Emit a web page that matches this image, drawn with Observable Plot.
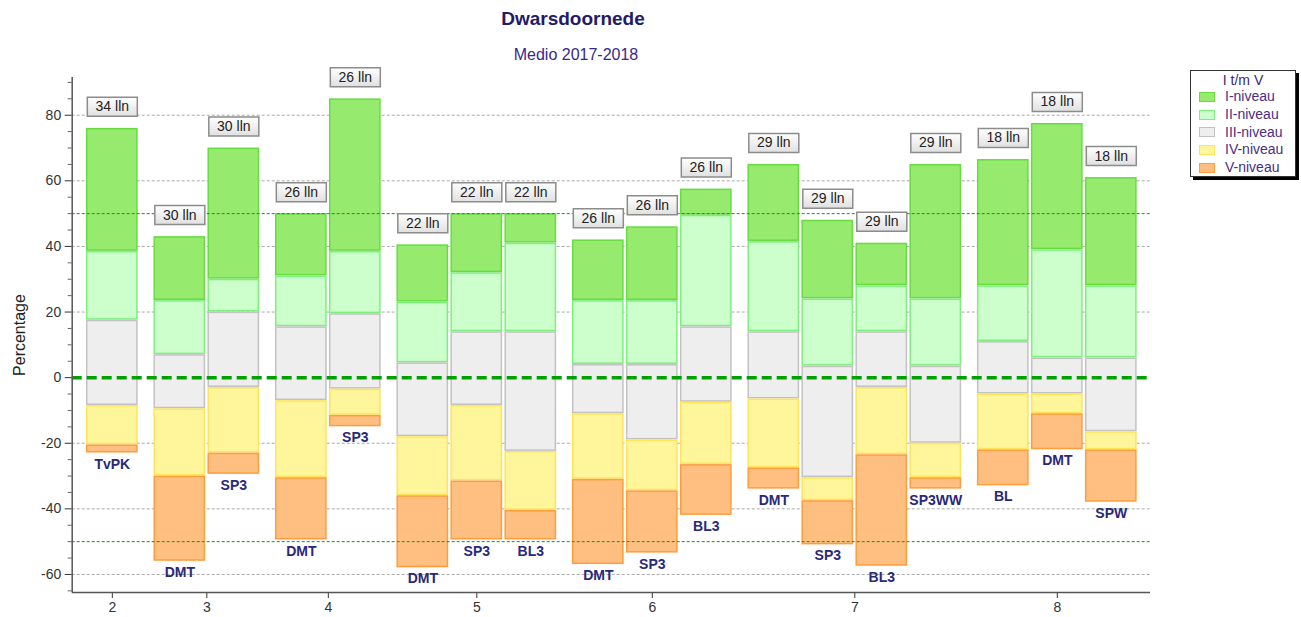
<!DOCTYPE html>
<html>
<head>
<meta charset="utf-8">
<script src="https://cdn.jsdelivr.net/npm/d3@7"></script>
<script src="https://cdn.jsdelivr.net/npm/@observablehq/plot@0.6"></script>
<style>
  html, body { margin: 0; padding: 0; background: #fff; }
  body { font-family: "Liberation Sans", Arial, sans-serif; }
  #wrap { position: relative; width: 1301px; height: 617px; overflow: hidden; }
  #head { position: relative; height: 68px; width: 1146px; }
  #title { position: absolute; left: 0; width: 1146px; top: 8px; text-align: center; font-weight: bold; font-size: 19px; color: #241a66; }
  #subtitle { position: absolute; left: 0; width: 1152px; top: 46px; text-align: center; font-size: 16px; color: #372a86; }
  #ylabel { position: absolute; left: 20px; top: 335px; transform: translate(-50%, -50%) rotate(-90deg); font-size: 16px; color: #222; white-space: nowrap; }
  #legend { position: absolute; left: 1190px; top: 70px; width: 106px; height: 107px; border: 1px solid #333; background: #fff; box-shadow: 3px 3px 0 #000; box-sizing: border-box; }
  #legend .lt { text-align: center; font-size: 14px; color: #3a2680; height: 17px; line-height: 19px; }
  #legend .row { display: flex; align-items: center; height: 17.7px; padding-left: 8px; }
  #legend .sw { width: 14px; height: 8px; border: 1.5px solid; margin-right: 10px; flex: none; }
  #legend .tx { font-size: 14px; color: #4a2d86; line-height: 17px; white-space: nowrap; }
</style>
</head>
<body>
<div id="wrap">
  <div id="head">
    <div id="title">Dwarsdoornede</div>
    <div id="subtitle">Medio 2017-2018</div>
  </div>
  <div id="chart"></div>
  <div id="ylabel">Percentage</div>
  <div id="legend"></div>
</div>
<script>
// ---- data ----
const grades   = [2, 3, 3, 4, 4, 5, 5, 5, 6, 6, 6, 7, 7, 7, 7, 8, 8, 8];
const schools  = ["TvPK", "DMT", "SP3", "DMT", "SP3", "DMT", "SP3", "BL3", "DMT", "SP3", "BL3", "DMT", "SP3", "BL3", "SP3WW", "BL", "DMT", "SPW"];
const students = [34, 30, 30, 26, 26, 22, 22, 22, 26, 26, 26, 29, 29, 29, 29, 18, 18, 18];
const tops     = [76, 43, 70, 50, 85, 40.5, 50, 50, 42, 46, 57.5, 65, 48, 41, 65, 66.5, 77.5, 61];
const niveauI   = [37.5, 19.5, 40, 19, 46.5, 17.5, 18, 9, 18.5, 22.5, 8, 23.5, 24, 13, 41, 38.5, 38.5, 33];
const niveauII  = [21, 16.5, 10, 15.5, 19, 18.5, 18, 27, 19.5, 19.5, 34, 27.5, 20.5, 14, 20.5, 17, 33, 22];
const niveauIII = [26, 16.5, 23, 22.5, 23, 22.5, 22.5, 36.5, 15, 23, 23, 20.5, 34, 17, 23.5, 16, 11, 22.5];
const niveauIV  = [12, 20.5, 20, 23.5, 8, 18, 23, 18, 20, 15.5, 19, 21, 7, 20.5, 10.5, 17, 6, 5.5];
const niveauV   = [2.5, 26, 6.5, 19, 3.5, 22, 18, 9, 26, 19, 15.5, 6.5, 13.5, 34, 3.5, 11, 11, 16];
const levelNames = ["I-niveau", "II-niveau", "III-niveau", "IV-niveau", "V-niveau"];
const yTicks = [-60, -40, -20, 0, 20, 40, 60, 80];
const minorTicks = d3.range(-65, 91, 5).filter(v => v % 20 !== 0);
const refLines = [50, -50];

// ---- styling ----
const fills   = ["#96ea6e", "#ccffcc", "#eeeeee", "#fff59a", "#ffbf80"];
const strokes = ["#66dc40", "#7cf07c", "#c2c2c2", "#ffe35a", "#ff9c3c"];
const levelValues = [niveauI, niveauII, niveauIII, niveauIV, niveauV];

// ---- layout (positions from group structure) ----
const groupGap = 0.25, half = 0.465;
let g = 0;
const bars = grades.map((gr, i) => {
  if (i > 0 && gr !== grades[i - 1]) g++;
  return {i, grade: gr, school: schools[i], n: students[i], top: tops[i], pos: i + groupGap * g};
});
const segments = [];
bars.forEach(b => {
  let y = b.top;
  levelValues.forEach((vals, l) => {
    const y2 = y - vals[b.i];
    segments.push({level: l, x1: b.pos - half, x2: b.pos + half, y1: y, y2});
    y = y2;
  });
  b.bottom = y;
});
const groupGrades = Array.from(new Set(grades));
const groupCenters = groupGrades.map(gr => d3.mean(bars.filter(b => b.grade === gr), b => b.pos));
const gradeAt = new Map(groupCenters.map((c, k) => [c, groupGrades[k]]));

const xDomain = [-0.743, 19.226];
const yDomain = [-65.5, 91.5];

const boxSymbol = {
  draw(ctx) {
    ctx.moveTo(-25, -9.5); ctx.lineTo(25, -9.5); ctx.lineTo(25, 9.5); ctx.lineTo(-25, 9.5); ctx.closePath();
  }
};

const defsMark = () => {
  const defs = document.createElementNS("http://www.w3.org/2000/svg", "defs");
  defs.innerHTML = '<linearGradient id="boxgrad" x1="0" y1="0" x2="0" y2="1"><stop offset="0" stop-color="#ffffff"/><stop offset="1" stop-color="#e0e0e0"/></linearGradient>';
  return defs;
};

const plot = Plot.plot({
  width: 1301,
  height: 549,
  marginTop: 9,
  marginBottom: 25,
  marginLeft: 71.7,
  marginRight: 151,
  x: {type: "linear", domain: xDomain, axis: null},
  y: {type: "linear", domain: yDomain, axis: null},
  style: {fontFamily: "'Liberation Sans', Arial, sans-serif", fontSize: "14px", background: "white", overflow: "visible"},
  marks: [
    defsMark,
    Plot.ruleY(yTicks.filter(v => v !== 0), {stroke: "#a8a8a8", strokeWidth: 1, strokeDasharray: "3,2"}),
    ...levelNames.map((name, l) => Plot.rect(segments.filter(s => s.level === l), {
      x1: "x1", x2: "x2", y1: "y1", y2: "y2",
      fill: fills[l], stroke: strokes[l], strokeWidth: 1.5, insetTop: 0.8, insetBottom: 0.8
    })),
    Plot.ruleY(refLines, {stroke: "#109a10", strokeWidth: 1, strokeDasharray: "3,2"}),
    Plot.ruleY([0], {stroke: "#00a000", strokeWidth: 3.5, strokeDasharray: "10,5"}),
    Plot.dot(bars, {x: "pos", y: "top", symbol: boxSymbol, fill: "url(#boxgrad)", stroke: "#8c8c8c", strokeWidth: 1.5, dy: -21.5}),
    Plot.text(bars, {x: "pos", y: "top", text: d => `${d.n} lln`, dy: -21.5, fontSize: 14, fill: "#222"}),
    Plot.text(bars, {x: "pos", y: "bottom", text: "school", dy: 11, fontSize: 14, fontWeight: "bold", fill: "#2a2878"}),
    Plot.axisY({ticks: minorTicks, tickSize: 4, tickFormat: () => "", label: null, stroke: "#666"}),
    Plot.axisY({ticks: yTicks, tickSize: 7, tickPadding: 4, tickFormat: d => String(d), fontSize: 14, label: null, color: "#333"}),
    Plot.axisX({ticks: groupCenters, tickFormat: d => String(gradeAt.get(d)), tickSize: 6, tickPadding: 4, fontSize: 14, label: null, color: "#333"}),
    Plot.ruleX([xDomain[0]], {stroke: "#555", strokeWidth: 1.5}),
    Plot.ruleY([yDomain[0]], {stroke: "#555", strokeWidth: 1.5})
  ]
});
document.getElementById("chart").appendChild(plot);

// legend
const lg = document.getElementById("legend");
lg.innerHTML = '<div class="lt">I t/m V</div>' + levelNames.map((n, l) =>
  `<div class="row"><div class="sw" style="background:${fills[l]};border-color:${strokes[l]}"></div><div class="tx">${n}</div></div>`
).join("");
</script>
</body>
</html>
